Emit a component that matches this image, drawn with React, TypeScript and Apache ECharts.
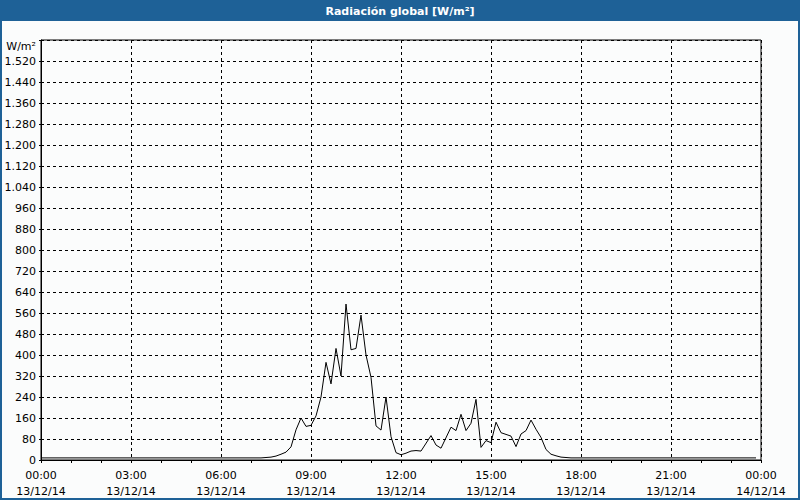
import React, { useEffect, useRef } from "react";
import * as echarts from "echarts";

const TITLE = "Radiación global [W/m²]";
const UNIT = "W/m²";
const DATE_START = "13/12/14";
const DATE_END = "14/12/14";

// time of day (HH:MM) and global radiation (W/m²)
const times = [
  "00:00", "07:20", "07:40", "07:50", "08:00", "08:10", "08:20", "08:30", "08:40", "08:50",
  "09:00", "09:10", "09:20", "09:30", "09:40", "09:50", "10:00", "10:10", "10:20", "10:30",
  "10:40", "10:50", "11:00", "11:10", "11:20", "11:30", "11:40", "11:50", "12:00", "12:10",
  "12:20", "12:30", "12:40", "13:00", "13:10", "13:20", "13:40", "13:50", "14:00", "14:10",
  "14:20", "14:30", "14:40", "14:50", "15:00", "15:10", "15:20", "15:40", "15:50", "16:00",
  "16:10", "16:20", "16:30", "16:40", "16:50", "17:00", "17:10", "17:20", "17:40", "23:50",
];
const values = [
  8, 8, 11, 15, 22, 30, 50, 115, 160, 128,
  132, 168, 240, 372, 290, 425, 320, 594, 420, 425,
  552, 400, 315, 130, 114, 240, 89, 28, 20, 26,
  34, 36, 34, 93, 57, 45, 125, 112, 174, 112,
  140, 231, 48, 74, 66, 144, 104, 91, 51, 99,
  112, 152, 117, 86, 40, 22, 16, 11, 8, 8,
];

const Y_MAX = 1600;
const Y_STEP = 80;
const X_STEP = 3;

const toHours = (t: string) => {
  const [h, m] = t.split(":").map(Number);
  return h + m / 60;
};

const fmtThousands = (v: number) =>
  String(v).replace(/\B(?=(\d{3})+(?!\d))/g, ".");

export default function App() {
  const ref = useRef<HTMLDivElement>(null);
  useEffect(() => {
    if (!ref.current) return;
    const chart = echarts.init(ref.current, undefined, { renderer: "svg" });
    const font = "DejaVu Sans";
    chart.setOption({
      animation: false,
      backgroundColor: "#fbfcfc",
      graphic: [
        { type: "rect", shape: { x: 0, y: 0, width: 800, height: 21 }, style: { fill: "#1e6197" } },
        { type: "rect", shape: { x: 0, y: 0, width: 2, height: 500 }, style: { fill: "#1e6197" } },
        { type: "rect", shape: { x: 798, y: 0, width: 2, height: 500 }, style: { fill: "#1e6197" } },
        { type: "rect", shape: { x: 0, y: 498, width: 800, height: 2 }, style: { fill: "#1e6197" } },
        {
          type: "text", x: 400, y: 11,
          style: { text: TITLE, fill: "#fff", font: `bold 11px ${font}`, align: "center", verticalAlign: "middle" },
        },
        {
          type: "text", x: 36, y: 46,
          style: { text: UNIT, fill: "#000", font: `11px ${font}`, align: "right", verticalAlign: "middle" },
        },
      ],
      grid: {
        left: 41, right: 39, top: 40, bottom: 40,
        show: true, borderColor: "#000", borderWidth: 1, backgroundColor: "transparent",
      },
      xAxis: {
        type: "value", min: 0, max: 24, interval: X_STEP,
        axisLine: { show: true, lineStyle: { color: "#000", width: 1 } },
        axisTick: { show: true, length: 3, lineStyle: { color: "#000" } },
        minorTick: { show: true, splitNumber: 3, length: 3, lineStyle: { color: "#000" } },
        splitLine: { show: true, lineStyle: { color: "#000", type: [3, 3], width: 1 } },
        axisLabel: {
          color: "#000", fontFamily: font, fontSize: 11, lineHeight: 16, margin: 7,
          formatter: (v: number) => {
            const h = Math.round(v) % 24;
            const hh = (h < 10 ? "0" : "") + h + ":00";
            return hh + "\n" + (v >= 24 ? DATE_END : DATE_START);
          },
        },
      },
      yAxis: {
        type: "value", min: 0, max: Y_MAX, interval: Y_STEP,
        axisLine: { show: true, lineStyle: { color: "#000", width: 1 } },
        axisTick: { show: true, length: 2, lineStyle: { color: "#000" } },
        splitLine: { show: true, lineStyle: { color: "#000", type: [3, 3], width: 1 } },
        axisLabel: {
          color: "#000", fontFamily: font, fontSize: 11, margin: 5,
          formatter: (v: number) => (v >= Y_MAX ? "" : fmtThousands(v)),
        },
      },
      series: [
        {
          type: "line",
          data: times.map((t, i) => [toHours(t), values[i]]),
          showSymbol: false,
          lineStyle: { color: "#000", width: 1 },
          itemStyle: { color: "#000" },
        },
      ],
    });
    return () => chart.dispose();
  }, []);
  return (
    <div
      ref={ref}
      style={{ position: "fixed", left: 0, top: 0, width: 800, height: 500 }}
    />
  );
}
